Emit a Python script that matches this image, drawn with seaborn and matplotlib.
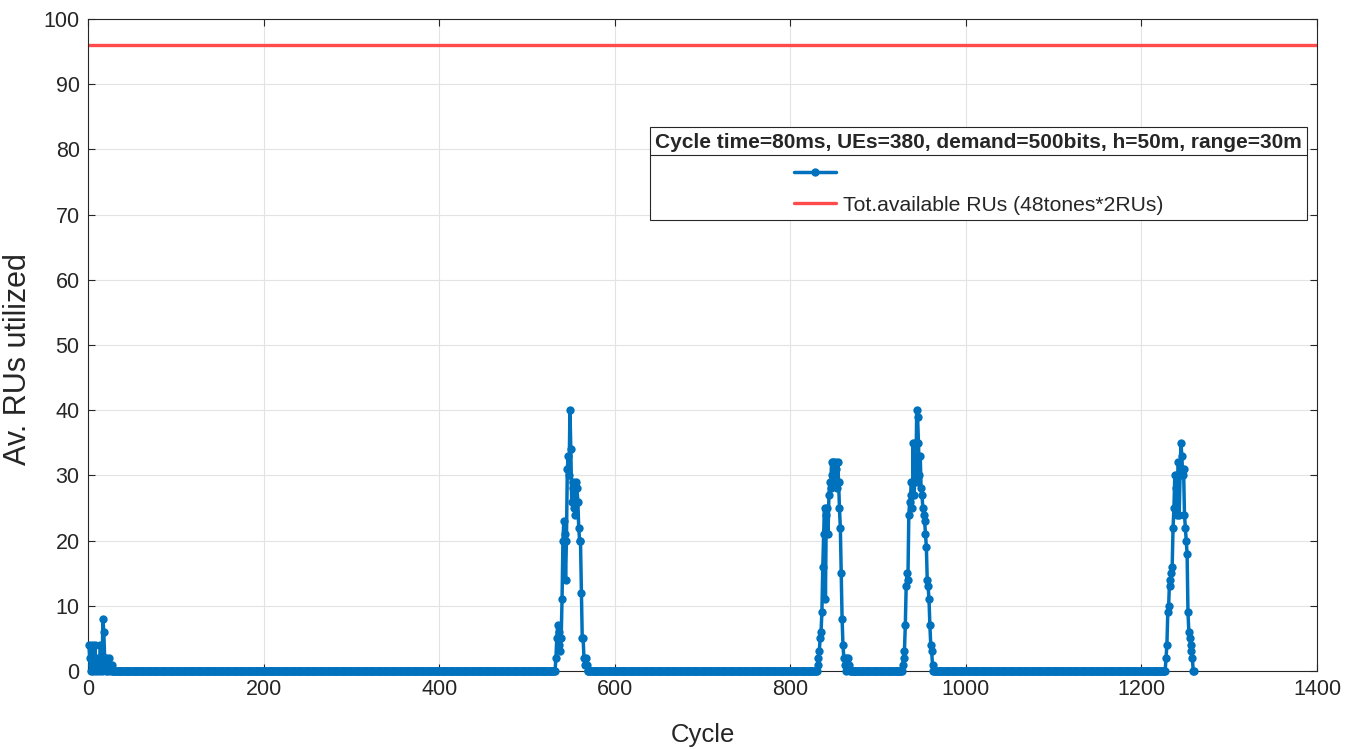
import numpy as np
import pandas as pd
import seaborn as sns
import matplotlib
matplotlib.use("Agg")
import matplotlib.pyplot as plt

# ---- data -------------------------------------------------------------
n_cycles = 1260
total_available = 96  # 48 tones * 2 RUs

# cycle at which each burst of activity begins, and the RUs used per cycle
burst_start = [1, 533, 831, 928, 1227]
burst_values = [
    [4, 2, 0, 4, 1, 0, 2, 4, 0, 1, 2, 0, 1, 4, 2, 0, 8, 6, 2, 0, 2, 1, 0, 2, 1, 0, 1, 0],
    [2, 5, 7, 4, 6, 3, 5, 11, 20, 23, 21, 14, 20, 31, 33, 30, 40, 34, 26, 28, 29, 25,
     24, 29, 28, 26, 22, 20, 20, 12, 5, 5, 2, 1, 2, 1, 0],
    [1, 2, 3, 5, 6, 9, 16, 21, 25, 11, 24, 25, 21, 27, 29, 28, 32, 30, 32, 29, 32, 31,
     28, 32, 29, 25, 22, 15, 8, 4, 2, 1, 2, 0, 1, 2, 1, 0],
    [1, 2, 3, 7, 13, 15, 14, 24, 26, 27, 29, 25, 35, 27, 35, 29, 40, 39, 35, 30, 33, 28,
     27, 25, 24, 23, 21, 19, 14, 13, 11, 7, 4, 3, 1, 0],
    [0, 2, 4, 9, 10, 14, 13, 15, 16, 22, 25, 30, 28, 30, 24, 32, 24, 30, 35, 33, 30, 31,
     24, 22, 20, 18, 9, 6, 5, 4, 3, 2, 0, 0],
]

legend_title = "Cycle time=80ms, UEs=380, demand=500bits, h=50m, range=30m"
avail_label = "Tot.available RUs (48tones*2RUs)"

# per-cycle series: idle cycles use no RUs
cycles = np.arange(1, n_cycles + 1)
used = np.zeros(n_cycles)
for start, vals in zip(burst_start, burst_values):
    used[start - 1:start - 1 + len(vals)] = vals
df = pd.DataFrame({"Cycle": cycles, "RUs": used})
df_avail = pd.DataFrame({"Cycle": [0, 1400], "RUs": [total_available] * 2})

# ---- style ------------------------------------------------------------
sns.set_theme(style="whitegrid")
plt.rcParams["font.family"] = ["Liberation Sans", "DejaVu Sans"]
plt.rcParams.update({
    "grid.color": "#e3e3e3",
    "grid.linewidth": 0.8,
    "axes.edgecolor": "#262626",
    "axes.linewidth": 0.8,
    "xtick.direction": "in",
    "ytick.direction": "in",
})

blue = "#0072BD"
red = "#FF4B4B"

fig = plt.figure(figsize=(13.6, 7.49), dpi=100)
ax = fig.add_axes([0.0647, 0.1041, 0.9037, 0.8705])

sns.lineplot(data=df, x="Cycle", y="RUs", ax=ax, color=blue, linewidth=2.5,
             marker="o", markersize=6, markeredgewidth=0, label="_used",
             errorbar=None, zorder=3, clip_on=False)
sns.lineplot(data=df_avail, x="Cycle", y="RUs", ax=ax, color=red, linewidth=2.4,
             label="_avail", errorbar=None, zorder=2)

ax.set_xlim(0, 1400)
ax.set_ylim(0, 100)
ax.set_xticks(np.arange(0, 1401, 200))
ax.set_yticks(np.arange(0, 101, 10))
ax.tick_params(axis="both", labelsize=15.5, colors="#262626", length=5, width=0.8,
               top=True, right=True, bottom=True, left=True, pad=6)
for s in ax.spines.values():
    s.set_visible(True)
    s.set_color("#262626")
ax.grid(True, which="major")
ax.set_xlabel("Cycle", fontsize=18.5, color="#262626", labelpad=16)
ax.set_ylabel("Av. RUs utilized", fontsize=22, color="#262626")
ax.yaxis.set_label_coords(-0.0448, 0.478)

lines = ax.get_lines()
h_used, h_avail = lines[0], lines[-1]
leg = ax.legend(handles=[h_used, h_avail], labels=[" ", avail_label],
                title=legend_title, loc="upper left",
                bbox_to_anchor=(0.4573, 0.834), borderaxespad=0, fontsize=15.2,
                title_fontproperties={"weight": "bold", "size": 15},
                frameon=True, fancybox=False, framealpha=1,
                edgecolor="#262626", handlelength=2.0, borderpad=0.25,
                labelspacing=0.6, handletextpad=0.3, alignment="center")
leg.get_frame().set_linewidth(0.8)
for lh in leg.legend_handles:
    lh.set_markersize(6)

# separator under the legend title
fig.canvas.draw()
fb = leg.get_frame().get_window_extent()
tb = leg.get_title().get_window_extent()
y_sep = tb.y0 - 3
inv = fig.transFigure.inverted()
(x0, ys), (x1, _) = inv.transform([(fb.x0, y_sep), (fb.x1, y_sep)])
fig.add_artist(plt.Line2D([x0, x1], [ys, ys], transform=fig.transFigure,
                          color="#262626", linewidth=0.8, zorder=10))

fig.savefig("out.png", dpi=100)
